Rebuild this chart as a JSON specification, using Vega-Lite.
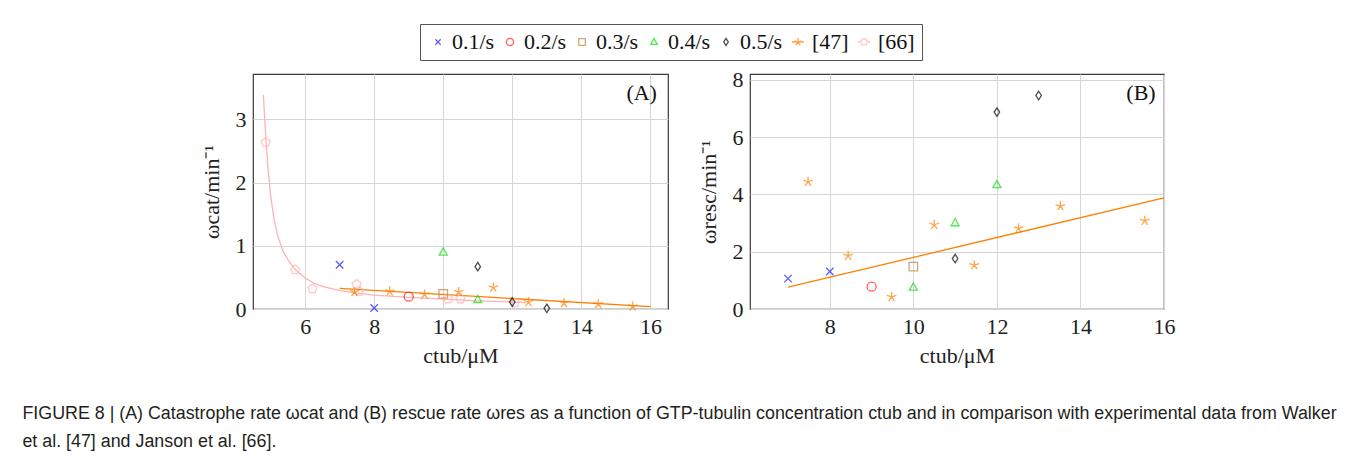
{
  "$schema": "https://vega.github.io/schema/vega-lite/v6.json",
  "background": "white",
  "padding": {"left": 22, "top": 23, "right": 20, "bottom": 8},
  "config": {
    "view": {"stroke": "#3a3a3a", "strokeWidth": 1.2},
    "axis": {
      "domain": false, "ticks": false, "grid": true, "gridColor": "#d6d6d6", "gridWidth": 1,
      "labelFont": "Liberation Serif", "labelFontSize": 22, "labelColor": "#222",
      "titleFont": "Liberation Serif", "titleFontSize": 22, "titleFontWeight": "normal", "titleColor": "#222",
      "labelPadding": 7, "labelFlush": false, "labelOverlap": false, "format": "d"
    },
    "axisX": {"titlePadding": 8},
    "axisY": {"titlePadding": 12},
    "legend": {"labelFont": "Liberation Serif", "labelFontSize": 22, "labelColor": "#111"}
  },
  "title": {
    "text": ["FIGURE 8 | (A) Catastrophe rate ωcat and (B) rescue rate ωres as a function of GTP-tubulin concentration ctub and in comparison with experimental data from Walker", "et al. [47] and Janson et al. [66]."],
    "orient": "bottom", "anchor": "start", "dx": -177, "offset": 38,
    "font": "Liberation Sans", "fontSize": 17.85, "fontWeight": "normal", "color": "#231f20", "lineHeight": 28
  },
  "datasets": {
    "series": [
      {"series": "0.1/s"}, {"series": "0.2/s"}, {"series": "0.3/s"}, {"series": "0.4/s"},
      {"series": "0.5/s"}, {"series": "[47]"}, {"series": "[66]"}
    ],
    "pointsA": [
      {"series": "[66]", "c": 4.86, "w": 2.64},
      {"series": "[66]", "c": 5.71, "w": 0.62},
      {"series": "[66]", "c": 6.21, "w": 0.32},
      {"series": "[66]", "c": 7.49, "w": 0.39},
      {"series": "[66]", "c": 7.56, "w": 0.28},
      {"series": "[66]", "c": 10.14, "w": 0.16},
      {"series": "[66]", "c": 10.5, "w": 0.16},
      {"series": "[66]", "c": 12.07, "w": 0.1},
      {"series": "[47]", "c": 7.43, "w": 0.27},
      {"series": "[47]", "c": 8.45, "w": 0.28},
      {"series": "[47]", "c": 9.46, "w": 0.23},
      {"series": "[47]", "c": 10.45, "w": 0.27},
      {"series": "[47]", "c": 11.45, "w": 0.34},
      {"series": "[47]", "c": 12.47, "w": 0.11},
      {"series": "[47]", "c": 13.5, "w": 0.095},
      {"series": "[47]", "c": 14.49, "w": 0.08},
      {"series": "[47]", "c": 15.49, "w": 0.04},
      {"series": "0.1/s", "c": 7, "w": 0.7},
      {"series": "0.1/s", "c": 8, "w": 0.015},
      {"series": "0.2/s", "c": 9, "w": 0.195},
      {"series": "0.3/s", "c": 10, "w": 0.24},
      {"series": "0.4/s", "c": 10, "w": 0.9},
      {"series": "0.4/s", "c": 11, "w": 0.15},
      {"series": "0.5/s", "c": 11, "w": 0.67},
      {"series": "0.5/s", "c": 12, "w": 0.11},
      {"series": "0.5/s", "c": 13, "w": 0.01}
    ],
    "pointsB": [
      {"series": "[47]", "c": 7.48, "w": 4.44},
      {"series": "[47]", "c": 8.44, "w": 1.86},
      {"series": "[47]", "c": 9.48, "w": 0.42},
      {"series": "[47]", "c": 10.5, "w": 2.94},
      {"series": "[47]", "c": 11.46, "w": 1.53},
      {"series": "[47]", "c": 12.52, "w": 2.81},
      {"series": "[47]", "c": 13.52, "w": 3.59},
      {"series": "[47]", "c": 15.54, "w": 3.08},
      {"series": "0.1/s", "c": 7, "w": 1.06},
      {"series": "0.1/s", "c": 8, "w": 1.31},
      {"series": "0.2/s", "c": 9, "w": 0.78},
      {"series": "0.3/s", "c": 10, "w": 1.48},
      {"series": "0.4/s", "c": 10, "w": 0.76},
      {"series": "0.4/s", "c": 11, "w": 3.01},
      {"series": "0.4/s", "c": 12, "w": 4.34},
      {"series": "0.5/s", "c": 11, "w": 1.76},
      {"series": "0.5/s", "c": 12, "w": 6.87},
      {"series": "0.5/s", "c": 13, "w": 7.45}
    ],
    "curve66": [
      {"c": 4.79, "w": 3.39}, {"c": 4.83, "w": 3.0}, {"c": 4.87, "w": 2.64}, {"c": 4.92, "w": 2.25},
      {"c": 5.0, "w": 1.8}, {"c": 5.1, "w": 1.42}, {"c": 5.2, "w": 1.17}, {"c": 5.35, "w": 0.93},
      {"c": 5.5, "w": 0.78}, {"c": 5.72, "w": 0.62}, {"c": 6.0, "w": 0.49}, {"c": 6.25, "w": 0.41},
      {"c": 6.5, "w": 0.36}, {"c": 7.0, "w": 0.29}, {"c": 7.5, "w": 0.25}, {"c": 8.0, "w": 0.22},
      {"c": 9.0, "w": 0.185}, {"c": 10.0, "w": 0.155}, {"c": 11.0, "w": 0.13}, {"c": 12.0, "w": 0.11},
      {"c": 12.4, "w": 0.1}
    ],
    "fitA47": [{"c": 7, "w": 0.327}, {"c": 16, "w": 0.037}],
    "fitB47": [{"c": 7, "w": 0.76}, {"c": 16, "w": 3.88}]
  },
  "spacing": 7,
  "resolve": {"scale": {"shape": "independent", "color": "independent"}},
  "vconcat": [
    {
      "width": 1, "height": 36,
      "view": {"stroke": null},
      "data": {"name": "series"},
      "transform": [{"filter": "false"}],
      "mark": {"type": "point", "filled": false, "size": 144, "strokeWidth": 1.3},
      "encoding": {
        "shape": {
          "field": "series", "type": "nominal",
          "scale": {
            "domain": ["0.1/s", "0.2/s", "0.3/s", "0.4/s", "0.5/s", "[47]", "[66]"],
            "range": [
              "M-0.45,-0.45L0.45,0.45M-0.45,0.45L0.45,-0.45",
              "M0.6,0A0.6,0.6,0,1,0,-0.6,0A0.6,0.6,0,1,0,0.6,0Z",
              "M-0.55,-0.55L0.55,-0.55L0.55,0.55L-0.55,0.55Z",
              "M0,-0.6L0.55,0.4L-0.55,0.4Z",
              "M0,-0.6L0.38,0L0,0.6L-0.38,0Z",
              "M-1,0L1,0M0,0L0,-0.65M0,0L0.62,-0.2M0,0L0.38,0.53M0,0L-0.38,0.53M0,0L-0.62,-0.2",
              "M-1,0L-0.57,0M0.57,0L1,0M0,-0.6L0.57,-0.19L0.35,0.49L-0.35,0.49L-0.57,-0.19Z"
            ]
          },
          "legend": {
            "orient": "none", "legendX": 167, "legendY": 0, "direction": "horizontal", "columns": 7,
            "title": null, "padding": 7, "strokeColor": "#555", "columnPadding": 4,
            "labelFont": "Liberation Serif", "labelFontSize": 22, "labelColor": "#111", "labelOffset": 3,
            "symbolSize": 144, "symbolStrokeWidth": 1.3
          }
        },
        "color": {
          "field": "series", "type": "nominal",
          "scale": {
            "domain": ["0.1/s", "0.2/s", "0.3/s", "0.4/s", "0.5/s", "[47]", "[66]"],
            "range": ["#1a1aff", "#ff1a1a", "#bf8040", "#10dd10", "#000000", "#ff8000", "#ffb3b3"]
          },
          "legend": {
            "orient": "none", "legendX": 167, "legendY": 0, "direction": "horizontal", "columns": 7,
            "title": null, "padding": 7, "strokeColor": "#555", "columnPadding": 4,
            "labelFont": "Liberation Serif", "labelFontSize": 22, "labelColor": "#111", "labelOffset": 3,
            "symbolSize": 144, "symbolStrokeWidth": 1.3
          }
        }
      }
    },
    {
      "spacing": 27,
      "resolve": {"scale": {"x": "independent", "y": "independent", "shape": "shared", "color": "shared"}},
      "hconcat": [
        {
          "width": 415, "height": 235,
          "layer": [
            {
              "data": {"name": "curve66"},
              "mark": {"type": "line", "color": "#ffb3b3", "strokeWidth": 1.3},
              "encoding": {
                "x": {"field": "c", "type": "quantitative", "scale": {"domain": [4.49, 16.51], "nice": false, "zero": false},
                      "axis": {"values": [6, 8, 10, 12, 14, 16], "title": "ctub/μM"}},
                "y": {"field": "w", "type": "quantitative", "scale": {"domain": [0, 3.72], "nice": false},
                      "axis": {"values": [0, 1, 2, 3], "title": "ωcat/min⁻¹"}}
              }
            },
            {
              "data": {"name": "fitA47"},
              "mark": {"type": "line", "color": "#ff8000", "strokeWidth": 1.3},
              "encoding": {
                "x": {"field": "c", "type": "quantitative"},
                "y": {"field": "w", "type": "quantitative"}
              }
            },
            {
              "data": {"name": "pointsA"},
              "mark": {"type": "point", "filled": false, "size": 100, "strokeWidth": 1.3},
              "encoding": {
                "x": {"field": "c", "type": "quantitative"},
                "y": {"field": "w", "type": "quantitative"},
                "shape": {
                  "field": "series", "type": "nominal", "legend": null,
                  "scale": {
                    "domain": ["0.1/s", "0.2/s", "0.3/s", "0.4/s", "0.5/s", "[47]", "[66]"],
                    "range": [
                      "M-0.75,-0.75L0.75,0.75M-0.75,0.75L0.75,-0.75",
                      "M0.9,0A0.9,0.9,0,1,0,-0.9,0A0.9,0.9,0,1,0,0.9,0Z",
                      "M-0.85,-0.85L0.85,-0.85L0.85,0.85L-0.85,0.85Z",
                      "M0,-0.85L0.8,0.6L-0.8,0.6Z",
                      "M0,-0.85L0.55,0L0,0.85L-0.55,0Z",
                      "M0,0L0,-1M0,0L0.95,-0.31M0,0L0.59,0.81M0,0L-0.59,0.81M0,0L-0.95,-0.31",
                      "M0,-0.95L0.9,-0.29L0.56,0.77L-0.56,0.77L-0.9,-0.29Z"
                    ]
                  }
                },
                "color": {
                  "field": "series", "type": "nominal", "legend": null,
                  "scale": {
                    "domain": ["0.1/s", "0.2/s", "0.3/s", "0.4/s", "0.5/s", "[47]", "[66]"],
                    "range": ["#1a1aff", "#ff1a1a", "#bf8040", "#10dd10", "#000000", "#ff8000", "#ffb3b3"]
                  }
                }
              }
            },
            {
              "data": {"values": [{}]},
              "mark": {"type": "text", "text": "(A)", "align": "right", "baseline": "middle", "font": "Liberation Serif", "fontSize": 22, "color": "#111"},
              "encoding": {"x": {"datum": 16.19}, "y": {"datum": 3.42}}
            }
          ]
        },
        {
          "width": 414, "height": 235,
          "layer": [
            {
              "data": {"name": "fitB47"},
              "mark": {"type": "line", "color": "#ff8000", "strokeWidth": 1.3},
              "encoding": {
                "x": {"field": "c", "type": "quantitative", "scale": {"domain": [6.09, 16], "nice": false, "zero": false},
                      "axis": {"values": [8, 10, 12, 14, 16], "title": "ctub/μM"}},
                "y": {"field": "w", "type": "quantitative", "scale": {"domain": [0, 8.2], "nice": false},
                      "axis": {"values": [0, 2, 4, 6, 8], "title": "ωresc/min⁻¹"}}
              }
            },
            {
              "data": {"name": "pointsB"},
              "mark": {"type": "point", "filled": false, "size": 100, "strokeWidth": 1.3},
              "encoding": {
                "x": {"field": "c", "type": "quantitative"},
                "y": {"field": "w", "type": "quantitative"},
                "shape": {"field": "series", "type": "nominal", "legend": null},
                "color": {"field": "series", "type": "nominal", "legend": null}
              }
            },
            {
              "data": {"values": [{}]},
              "mark": {"type": "text", "text": "(B)", "align": "right", "baseline": "middle", "font": "Liberation Serif", "fontSize": 22, "color": "#111"},
              "encoding": {"x": {"datum": 15.8}, "y": {"datum": 7.55}}
            }
          ]
        }
      ]
    }
  ]
}
